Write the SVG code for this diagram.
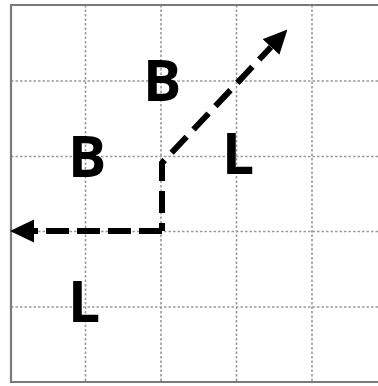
<svg xmlns="http://www.w3.org/2000/svg" width="378" height="386" viewBox="0 0 378 386">
<defs>
<style>
.grid{stroke:#9a9a9a;stroke-width:1.6;stroke-dasharray:2.5 2;fill:none}
.border{stroke:#7a7a7a;stroke-width:2.2;fill:none}
.conn{stroke:#000;stroke-width:6;fill:none;stroke-dasharray:22 10}
.lbl{font-family:"Open Sans","Liberation Sans",sans-serif;font-weight:700;font-size:57px;fill:#000}
</style>
<marker id="ah" markerUnits="userSpaceOnUse" markerWidth="24" markerHeight="24" refX="0" refY="11" orient="auto" viewBox="0 0 23 22">
<path d="M0,0 L23,11 L0,22 Z" fill="#000"/>
</marker>
</defs>
<rect width="378" height="386" fill="#fff"/>
<g id="grid">
<path class="grid" d="M85.5,5 V382 M161,5 V382 M236.5,5 V382 M312,5 V382 M11,81 H378 M11,156.5 H378 M11,231.5 H378 M11,307 H378"/>
<path class="border" d="M378,5 H11 V382 H378"/>
</g>
<g id="connectors">
<path class="conn" d="M162,231 H34" marker-end="url(#ah)" style="stroke-dasharray:23 8"/>
<path class="conn" d="M162,231 V163 L271,47" marker-end="url(#ah)" style="stroke-dashoffset:14"/>
</g>
<g id="label-B-top"><text class="lbl" x="143" y="101">B</text></g>
<g id="label-B-left"><text class="lbl" x="68" y="177">B</text></g>
<g id="label-L-right"><text class="lbl" x="222" y="174">L</text></g>
<g id="label-L-bottom"><text class="lbl" x="68" y="322">L</text></g>
</svg>
